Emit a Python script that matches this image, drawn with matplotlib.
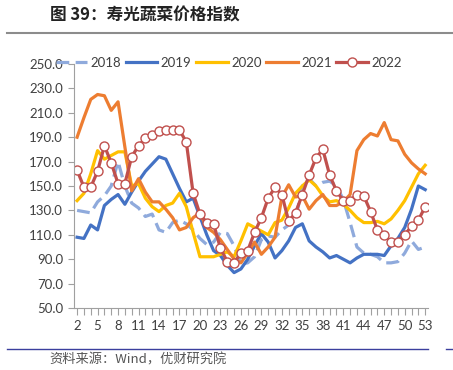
import matplotlib
matplotlib.use("Agg")
import matplotlib.pyplot as plt
from matplotlib.lines import Line2D

plt.rcParams['font.family'] = ['Lato', 'Noto Sans CJK SC', 'DejaVu Sans']

weeks = list(range(2, 54))
y2018 = [130, 129, 128, 137, 142, 150, 170, 150, 136, 132, 125, 127, 114, 112, 120, 122,
         119, 114, 107, 102, 104, 112, 111, 101, 86, 87, 92, 106, 109, 108, 114, 118,
         122, 150, 156, 150, 153, 154, 150, 139, 120, 100, 95, 94, 92, 87, 87, 88,
         95, 105, 98, 100]
y2019 = [108, 107, 118, 114, 134, 139, 143, 135, 145, 154, 162, 168, 174, 172, 160, 148,
         137, 140, 125, 110, 97, 93, 85, 79, 82, 90, 101, 111, 104, 91, 97, 105,
         116, 119, 105, 100, 96, 91, 93, 90, 87, 91, 94, 94, 94, 93, 101, 107,
         116, 131, 150, 147]
y2020 = [138, 144, 160, 179, 172, 175, 178, 178, 150, 152, 140, 133, 129, 134, 136, 144,
         133, 112, 92, 92, 92, 94, 96, 92, 105, 119, 116, 113, 110, 120, 122, 132,
         144, 150, 155, 150, 142, 137, 138, 135, 130, 124, 120, 120, 121, 119, 123, 130,
         138, 149, 160, 167]
y2021 = [190, 206, 221, 225, 224, 212, 219, 182, 146, 156, 145, 137, 137, 131, 124, 114,
         116, 124, 128, 116, 112, 106, 98, 90, 87, 95, 104, 94, 100, 108, 141, 151,
         141, 142, 131, 138, 143, 134, 134, 137, 143, 179, 188, 193, 191, 202, 188, 187,
         176, 169, 164, 160]
y2022 = [163, 149, 149, 162, 183, 169, 152, 152, 174, 183, 189, 192, 195, 196, 196, 196,
         186, 144, 127, 120, 119, 99, 88, 87, 95, 97, 112, 124, 140, 149, 143, 121,
         128, 143, 159, 173, 180, 159, 146, 138, 138, 143, 142, 129, 114, 110, 104, 104,
         110, 117, 122, 133]
yticks = [50, 70, 90, 110, 130, 150, 170, 190, 210, 230, 250]

fig = plt.figure(figsize=(4.53, 3.70), dpi=100)
ax = fig.add_axes([0.1634, 0.1676, 0.782, 0.6594])

lw = 2.3
ax.plot(weeks, y2018, color='#8FAADC', lw=lw, dashes=(4, 2), label='2018')
ax.plot(weeks, y2019, color='#4472C4', lw=lw, label='2019')
ax.plot(weeks, y2020, color='#FFC000', lw=lw, label='2020')
ax.plot(weeks, y2021, color='#ED7D31', lw=lw, label='2021')
ax.plot(weeks, y2022, color='#C0504D', lw=lw, marker='o', markersize=6.5,
        markerfacecolor='white', markeredgecolor='#C0504D', markeredgewidth=1.0, label='2022')

ax.set_xlim(1.55, 53.45)
ax.set_ylim(50, 250)
ax.set_yticks(yticks)
ax.set_yticklabels([f"{v:.1f}" for v in yticks])
ax.set_xticks(weeks[::3])
ax.set_xticks(weeks, minor=True)
ax.tick_params(axis='y', length=4, width=0.8, color='#A0A0A0', labelsize=9.5, pad=4, labelcolor='#404040')
ax.tick_params(axis='x', which='both', length=5, width=0.8, color='#A0A0A0', labelsize=9.5, pad=4, labelcolor='#404040')
for s in ['top', 'right']:
    ax.spines[s].set_visible(False)
for s in ['left', 'bottom']:
    ax.spines[s].set_color('#A0A0A0')
    ax.spines[s].set_linewidth(0.8)

fig.legend(loc='center', bbox_to_anchor=(0.505, 0.83), ncol=5, frameon=False,
           fontsize=9.5, handlelength=2.4, handletextpad=0.25, columnspacing=0.35,
           labelcolor='#404040')

fig.text(0.11, 0.957, '图 39：寿光蔬菜价格指数', fontsize=12, fontweight='bold',
         family=['Noto Sans CJK SC', 'DejaVu Sans'], va='center', ha='left', color='#222222')
fig.add_artist(Line2D([0.015, 1.0], [0.91, 0.91], color='#8C8C8C', lw=1.5))
fig.add_artist(Line2D([0.015, 0.945], [0.057, 0.057], color='#3B3F9E', lw=1.0))
fig.add_artist(Line2D([0.985, 1.0], [0.057, 0.057], color='#3B3F9E', lw=1.0))
fig.text(0.11, 0.026, '资料来源：Wind，优财研究院', fontsize=9.5,
         family=['Noto Sans CJK SC', 'DejaVu Sans'], va='center', ha='left', color='#555555')

fig.savefig('out.png', dpi=100)
